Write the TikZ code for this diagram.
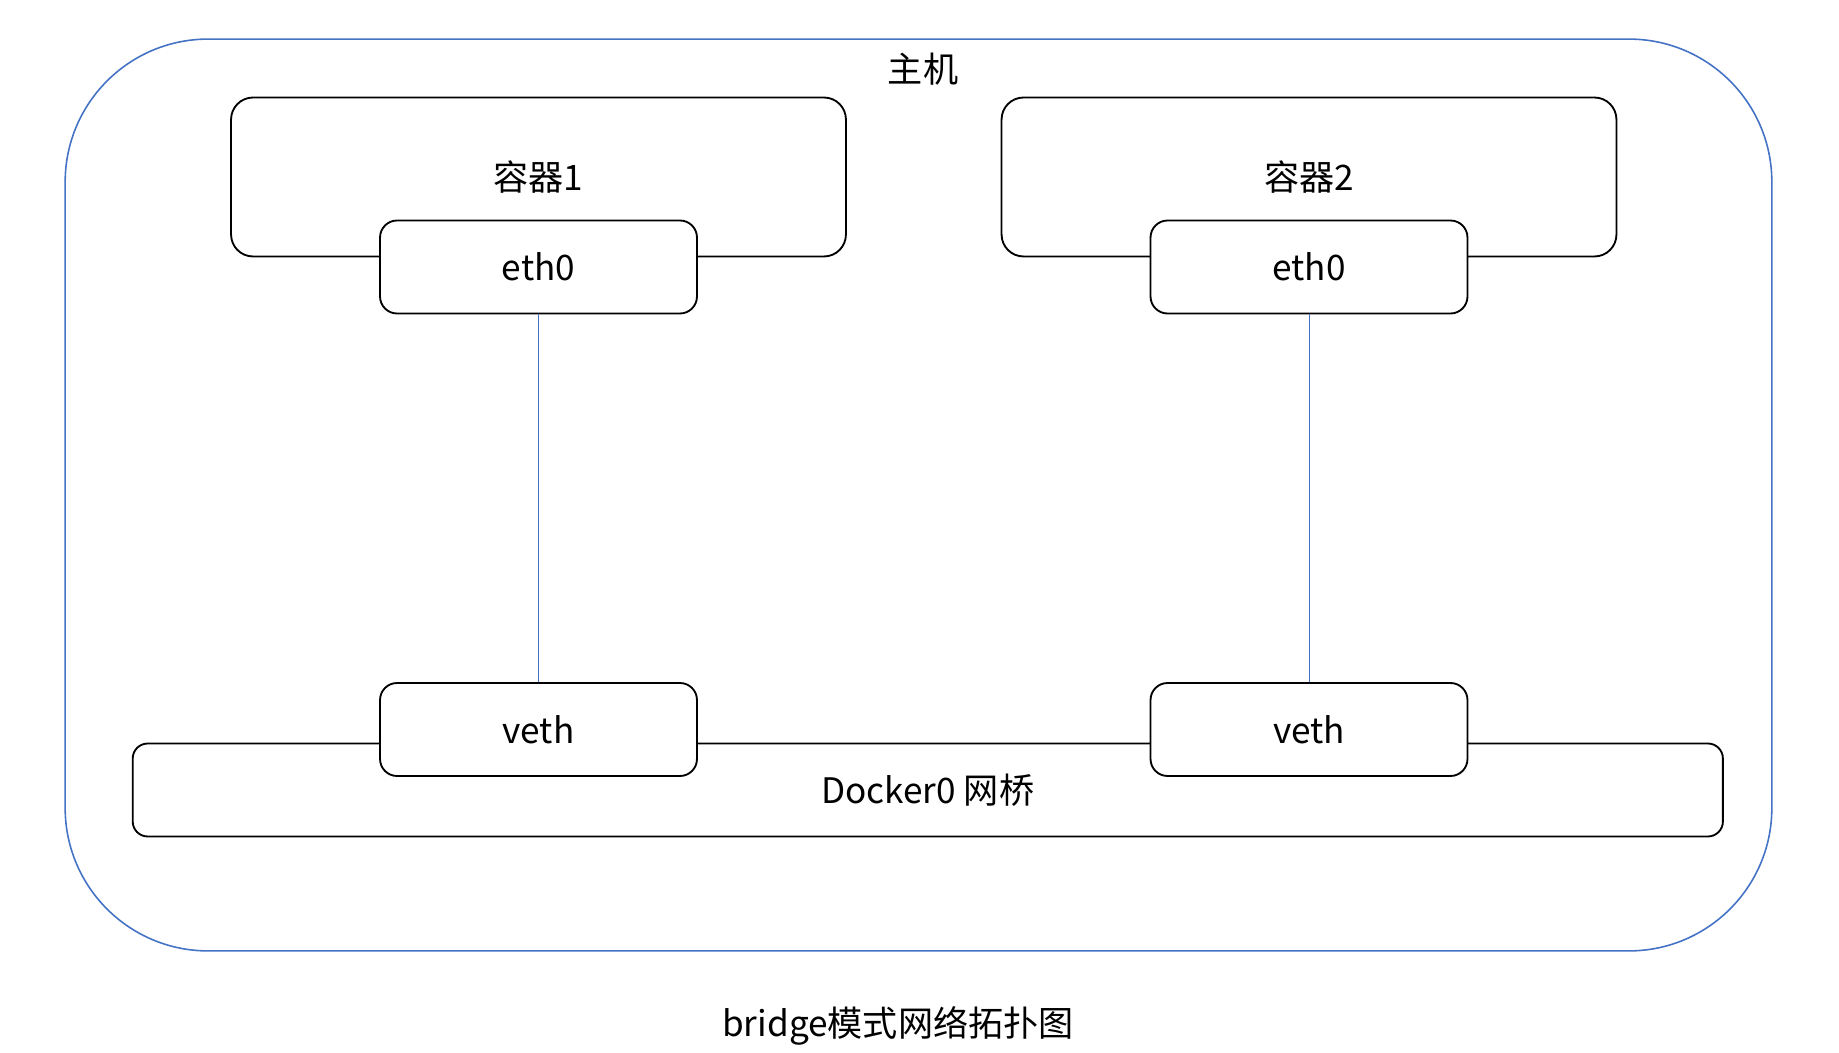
\documentclass[tikz,border=0pt]{standalone}
\usepackage{fontspec}
\setmainfont{Noto Sans CJK SC}
\usepackage{tikz}
\definecolor{hostblue}{HTML}{4472C4}

\begin{document}
\begin{tikzpicture}[x=0.02cm, y=-0.02cm,
  font=\fontsize{20pt}{24pt}\selectfont,
  box/.style={draw=black, line width=1.05pt, fill=white, inner sep=0pt},
  ctbox/.style={box, rounded corners=0.44cm, minimum width=12.3cm, minimum height=3.18cm},
  portbox/.style={box, rounded corners=0.34cm, minimum width=6.34cm, minimum height=1.86cm},
  link/.style={hostblue, line width=0.5pt}]
\useasboundingbox (0,0) rectangle (1839,1053);
% host
\node[draw=hostblue, line width=0.9pt, rounded corners=2.86cm, minimum width=34.14cm, minimum height=18.24cm] (host) at (918.5,495) {};
\node (hostname) at (923,69) {主机};
% containers
\node[ctbox] (ct1) at (538.5,177) {容器1};
\node[ctbox] (ct2) at (1309,177) {容器2};
\node[portbox] (eth1) at (538.5,267) {eth0};
\node[portbox] (eth2) at (1309,267) {eth0};
% bridge
\node[box, rounded corners=0.3cm, minimum width=31.81cm, minimum height=1.86cm] (docker) at (927.8,790) {Docker0 网桥};
\node[portbox] (veth1) at (538.5,729.5) {veth};
\node[portbox] (veth2) at (1309,729.5) {veth};
\draw[link] (eth1) -- (veth1);
\draw[link] (eth2) -- (veth2);
\node (title) at (898,1026) {bridge模式网络拓扑图};
\end{tikzpicture}
\end{document}
